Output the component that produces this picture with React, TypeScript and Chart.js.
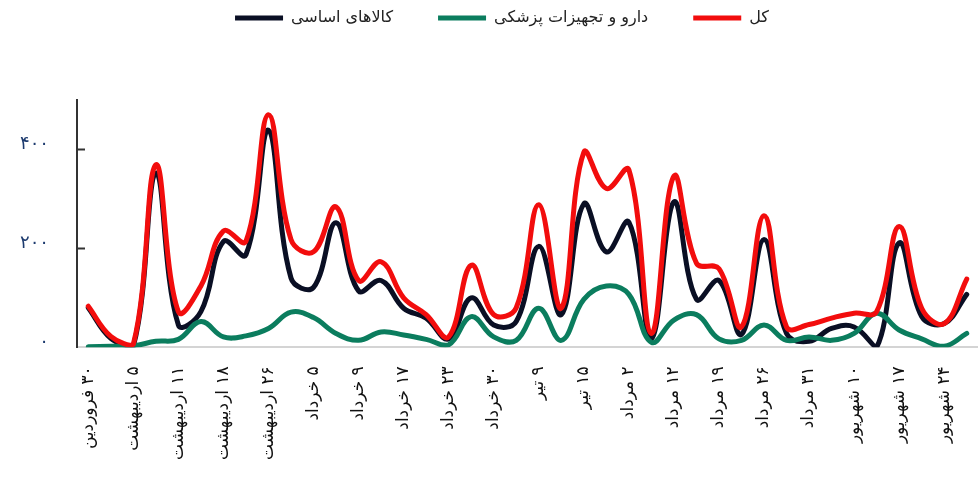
import React, { useEffect, useRef } from 'react';
import { Chart, registerables } from 'chart.js';

Chart.register(...registerables);

// Tick labels (every second data point carries a label)
const dateTicks: string[] = [
  '۳۰ فروردین', '۵ اردیبهشت', '۱۱ اردیبهشت', '۱۸ اردیبهشت', '۲۶ اردیبهشت',
  '۵ خرداد', '۹ خرداد', '۱۷ خرداد', '۲۳ خرداد', '۳۰ خرداد',
  '۹ تیر', '۱۵ تیر', '۲ مرداد', '۱۲ مرداد', '۱۹ مرداد',
  '۲۶ مرداد', '۳۱ مرداد', '۱۰ شهریور', '۱۷ شهریور', '۲۴ شهریور',
];

// Series values
const totalValues: number[] = [
  83, 22, 6, 369, 72, 124, 235, 214, 470, 218,
  193, 284, 135, 173, 100, 66, 21, 166, 66, 80,
  288, 79, 394, 321, 359, 28, 346, 170, 159, 41,
  266, 41, 46, 59, 69, 72, 244, 79, 48, 138,
];
const basicGoodsValues: number[] = [
  80, 18, 2, 352, 45, 72, 214, 187, 439, 140,
  121, 252, 114, 135, 79, 59, 17, 100, 45, 52,
  204, 66, 290, 193, 253, 17, 294, 97, 135, 26,
  218, 28, 12, 38, 41, 0, 211, 62, 48, 107,
];
const medicalValues: number[] = [
  1, 2, 3, 12, 16, 52, 21, 23, 38, 71,
  60, 28, 14, 31, 25, 16, 5, 62, 21, 14,
  79, 14, 97, 124, 107, 10, 55, 66, 17, 14,
  45, 14, 21, 14, 28, 69, 35, 17, 2, 28,
];

const yTickValues: number[] = [0, 200, 400];
const yMax = 500;

const seriesTotal = 'کل';
const seriesMedical = 'دارو و تجهیزات پزشکی';
const seriesBasic = 'کالاهای اساسی';

const categories: string[] = totalValues.map((_, i) =>
  i % 2 === 0 && dateTicks[i / 2] !== undefined ? dateTicks[i / 2] : ''
);

const toFa = (n: number | string) =>
  String(n).replace(/\d/g, (d) => '۰۱۲۳۴۵۶۷۸۹'[Number(d)]);

const FONT = "'DejaVu Sans', sans-serif";

const legendSpace = {
  id: 'legendSpace',
  beforeLayout(chart: any) {
    const lg = chart.legend;
    if (lg && !lg.__patched) {
      const orig = lg.fit.bind(lg);
      lg.fit = function () {
        orig();
        this.height += 64;
      };
      lg.__patched = true;
    }
  },
  afterLayout(chart: any) {
    const lg = chart.legend;
    if (lg) {
      lg.left += 17;
      lg.right += 17;
    }
  },
};

const inwardTicks = {
  id: 'inwardTicks',
  afterDatasetsDraw(chart: any) {
    const y = chart.scales.y;
    const { ctx, chartArea } = chart;
    ctx.save();
    ctx.strokeStyle = '#333333';
    ctx.lineWidth = 2;
    yTickValues.forEach((v) => {
      if (v === 0) return;
      const py = Math.round(y.getPixelForValue(v)) + 0.5;
      ctx.beginPath();
      ctx.moveTo(chartArea.left, py);
      ctx.lineTo(chartArea.left + 8, py);
      ctx.stroke();
    });
    ctx.restore();
  },
};

export default function App() {
  const ref = useRef<HTMLCanvasElement | null>(null);

  useEffect(() => {
    if (!ref.current) return;
    const common = {
      pointRadius: 0,
      pointHoverRadius: 0,
      borderWidth: 5,
      tension: 0.4,
      borderCapStyle: 'round' as const,
      borderJoinStyle: 'round' as const,
      fill: false,
    };
    const chart = new Chart(ref.current, {
      type: 'line',
      data: {
        labels: categories,
        datasets: [
          { ...common, label: seriesTotal, data: totalValues, borderColor: '#f20d0d', backgroundColor: '#f20d0d' },
          { ...common, label: seriesMedical, data: medicalValues, borderColor: '#0b7d5e', backgroundColor: '#0b7d5e' },
          { ...common, label: seriesBasic, data: basicGoodsValues, borderColor: '#0a0f24', backgroundColor: '#0a0f24' },
        ],
      },
      options: {
        animation: false,
        responsive: true,
        maintainAspectRatio: false,
        layout: { padding: { top: -35, left: -8, right: 0, bottom: 20 } },
        plugins: {
          tooltip: { enabled: false },
          legend: {
            display: true,
            position: 'top',
            reverse: true,
            labels: {
              usePointStyle: true,
              pointStyle: 'line',
              pointStyleWidth: 48,
              padding: 45,
              color: '#222222',
              font: { family: FONT, size: 16 },
            },
          },
        },
        scales: {
          x: {
            type: 'category',
            offset: true,
            grid: {
              display: true,
              drawOnChartArea: false,
              drawTicks: true,
              tickLength: 17,
              tickColor: 'rgba(0,0,0,0)',
            },
            border: { display: true, color: '#d4d4d4', width: 2 },
            ticks: {
              autoSkip: false,
              minRotation: 90,
              maxRotation: 90,
              padding: 2,
              color: '#111111',
              font: { family: FONT, size: 17 },
              callback: (_v: any, index: number) =>
                categories[index] === '' ? null : categories[index],
            },
          },
          y: {
            type: 'linear',
            min: 0,
            max: yMax,
            afterBuildTicks: (scale: any) => {
              scale.ticks = yTickValues.map((v) => ({ value: v }));
            },
            grid: { display: true, drawOnChartArea: false, drawTicks: false },
            border: { display: true, color: '#333333', width: 2 },
            ticks: {
              padding: 28,
              labelOffset: -5,
              color: '#1c3a6e',
              font: { family: FONT, size: 18 },
              callback: (v: any) => toFa(v),
            },
          },
        },
      },
      plugins: [legendSpace, inwardTicks],
    });
    return () => chart.destroy();
  }, []);

  return (
    <div style={{ position: 'absolute', left: 0, top: 0, width: 978, height: 482, background: '#fff' }}>
      <canvas ref={ref} style={{ direction: 'rtl' }} />
    </div>
  );
}
